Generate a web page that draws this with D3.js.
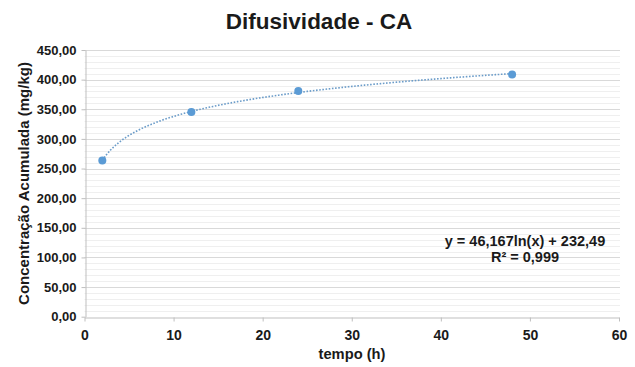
<!DOCTYPE html>
<html>
<head>
<meta charset="utf-8">
<script src="https://cdn.jsdelivr.net/npm/d3@7"></script>
<style>
  body { margin: 0; background: #fff; }
  text { font-family: "Liberation Sans", Arial, sans-serif; font-weight: bold; }
</style>
</head>
<body>
<div id="chart"></div>
<script>
// data
var tempo = [2, 12, 24, 48]
var concentracao = [263.5, 345.5, 381, 408.5]
var xTicks = [0, 10, 20, 30, 40, 50, 60]
var yTicks = [0, 50, 100, 150, 200, 250, 300, 350, 400, 450]
var equacao = ["y = 46,167ln(x) + 232,49", "R² = 0,999"]

var W = 635, H = 367

var svg = d3.select("#chart").append("svg")
    .attr("width", W).attr("height", H)

var x = d3.scaleLinear().domain([0, 60]).range([84.5, 619])
var y = d3.scaleLinear().domain([0, 450]).range([316.7, 50])

// minor gridlines every 10
var g_grid = svg.append("g").attr("class", "grid")
g_grid.selectAll("line.minor")
    .data(d3.range(10, 450, 10).filter(v => v % 50 != 0))
    .enter().append("line").attr("class", "minor")
    .attr("x1", x(0)).attr("x2", 620)
    .attr("y1", d => Math.round(y(d)) + 0.5).attr("y2", d => Math.round(y(d)) + 0.5)
    .style("stroke", "#efefef")
g_grid.selectAll("line.major")
    .data(yTicks.filter(v => v > 0))
    .enter().append("line").attr("class", "major")
    .attr("x1", x(0)).attr("x2", 620)
    .attr("y1", d => Math.round(y(d)) + 0.5).attr("y2", d => Math.round(y(d)) + 0.5)
    .style("stroke", "#d9d9d9")

// axes
var xAxis = d3.axisBottom(x).tickValues(xTicks).tickSize(4).tickSizeOuter(0).tickPadding(5)
var yAxis = d3.axisLeft(y).tickValues(yTicks).tickSize(4).tickSizeOuter(0).tickPadding(5)
    .tickFormat(d => d3.format(".2f")(d).replace(".", ","))

var gx = svg.append("g")
    .attr("transform", "translate(0," + (Math.round(y(0)) + 0.5) + ")")
    .call(xAxis)
var gy = svg.append("g")
    .attr("transform", "translate(" + (Math.round(x(0)) + 0.5) + ",0)")
    .call(yAxis)
svg.selectAll(".domain, .tick line").style("stroke", "#bfbfbf")
svg.selectAll(".tick text").style("fill", "#1a1a1a")
    .style("font-family", "'Liberation Sans', Arial, sans-serif").style("font-weight", "bold")
gy.selectAll(".tick text").style("font-size", "13px")
gx.selectAll(".tick text").style("font-size", "14px").attr("dy", "0.95em")

// logarithmic trendline from least squares on the data
var lx = tempo.map(Math.log)
var mx = d3.mean(lx), my = d3.mean(concentracao)
var b = d3.sum(lx.map((v, i) => (v - mx) * (concentracao[i] - my))) / d3.sum(lx.map(v => (v - mx) * (v - mx)))
var a = my - b * mx
var trend = d3.range(0, 101).map(i => {
  var t = tempo[0] + (tempo[tempo.length - 1] - tempo[0]) * i / 100
  return [t, a + b * Math.log(t)]
})
svg.append("path")
    .datum(trend)
    .attr("d", d3.line().x(d => x(d[0])).y(d => y(d[1])))
    .style("fill", "none")
    .style("stroke", "#6b9cc9")
    .style("stroke-width", 1.6)
    .style("stroke-dasharray", "1.6,1.6")

// points
svg.selectAll("circle.pt")
    .data(tempo)
    .enter().append("circle").attr("class", "pt")
    .attr("cx", d => x(d))
    .attr("cy", (d, i) => y(concentracao[i]))
    .attr("r", 4)
    .style("fill", "#5b9bd5")

// title and labels
svg.append("text")
    .attr("x", 319).attr("y", 29)
    .style("text-anchor", "middle")
    .style("font-size", "22.5px")
    .style("fill", "#1a1a1a")
    .text("Difusividade - CA")

svg.append("text")
    .attr("transform", "translate(28.5," + 183.5 + ") rotate(-90)")
    .style("text-anchor", "middle")
    .style("font-size", "15px")
    .style("fill", "#1a1a1a")
    .text("Concentração Acumulada (mg/kg)")

svg.append("text")
    .attr("x", 352).attr("y", 359)
    .style("text-anchor", "middle")
    .style("font-size", "14.7px")
    .style("fill", "#1a1a1a")
    .text("tempo (h)")

svg.append("g").selectAll("text")
    .data(equacao)
    .enter().append("text")
    .attr("x", 525)
    .attr("y", (d, i) => 246 + i * 16)
    .style("text-anchor", "middle")
    .style("font-size", "14.5px")
    .style("fill", "#1a1a1a")
    .text(d => d)
</script>
</body>
</html>
